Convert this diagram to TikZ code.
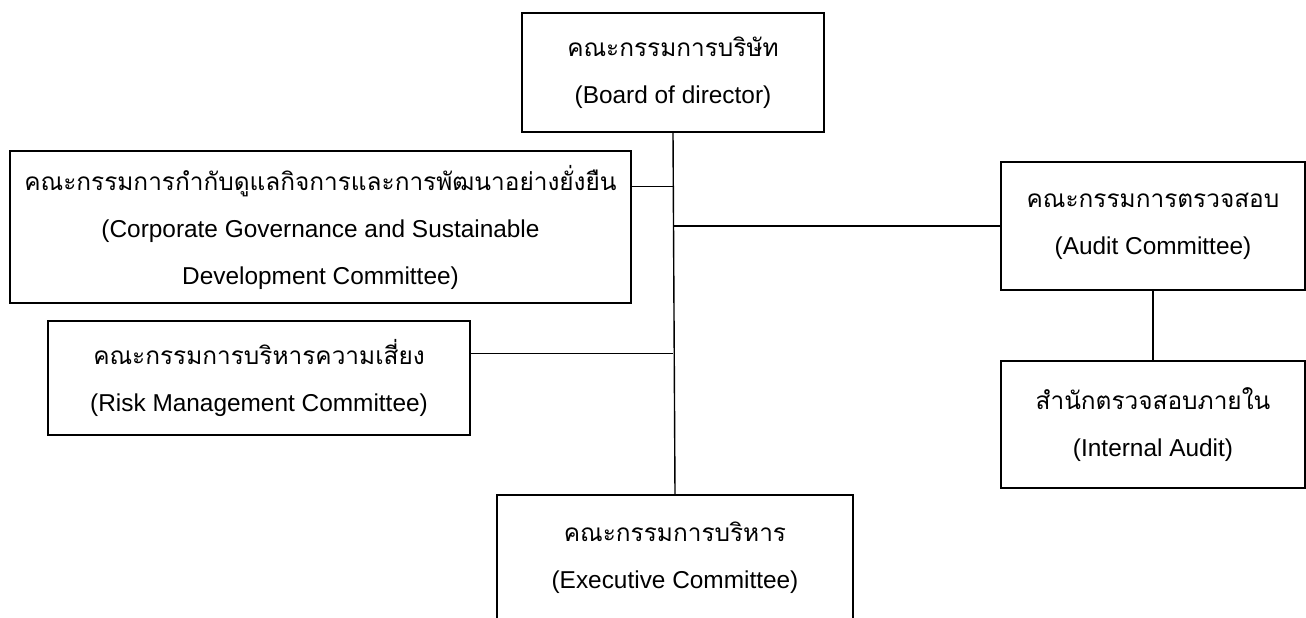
\documentclass[tikz,border=0pt]{standalone}
\usepackage{fontspec}
\setmainfont{Liberation Sans}
\newfontfamily\thaifont[Script=Thai]{Loma}
\usetikzlibrary{calc,positioning}

\begin{document}
\begin{tikzpicture}[x=0.5pt,y=-0.5pt,
    orgbox/.style={draw,line width=1pt,align=center,inner sep=0pt,
      font=\fontsize{12.2}{23.5}\selectfont},
    link/.style={line width=0.7pt}]
  \useasboundingbox (0,0) rectangle (1306,617);
  % Board of director (top)
  \node[orgbox,minimum width=151pt,minimum height=59.5pt] (board) at (673,72.5)
    {{\thaifont คณะกรรมการบริษัท}\\(Board of director)};
  % Committees on the left
  \node[orgbox,minimum width=310.5pt,minimum height=76pt] (cg) at (320.5,227)
    {{\thaifont คณะกรรมการกำกับดูแลกิจการและการพัฒนาอย่างยั่งยืน}\\(Corporate Governance and Sustainable\\Development Committee)};
  \node[orgbox,minimum width=211pt,minimum height=57pt] (risk) at (259,378)
    {{\thaifont คณะกรรมการบริหารความเสี่ยง}\\(Risk Management Committee)};
  % Executive committee (bottom, runs off the page)
  \node[orgbox,minimum width=178pt,minimum height=63pt] (exec) at (675,558)
    {{\thaifont คณะกรรมการบริหาร}\\(Executive Committee)};
  % Audit branch on the right
  \node[orgbox,minimum width=152pt,minimum height=64pt] (audit) at (1153,226)
    {{\thaifont คณะกรรมการตรวจสอบ}\\(Audit Committee)};
  \node[orgbox,minimum width=152pt,minimum height=63.5pt] (internal) at (1153,424.5)
    {{\thaifont สำนักตรวจสอบภายใน}\\(Internal Audit)};
  % Connectors
  \draw[link] (board.south) -- (exec.north);
  \draw[link] ($(cg.north east)!0.237!(cg.south east)$) coordinate (cgj) -- (cgj -| board.south);
  \draw[link] ($(risk.north east)!0.29!(risk.south east)$) coordinate (riskj) -- (riskj -| board.south);
  \draw[link] (audit.west) -- (audit.west -| board.south);
  \draw[link] (audit.south) -- (internal.north);
\end{tikzpicture}
\end{document}
